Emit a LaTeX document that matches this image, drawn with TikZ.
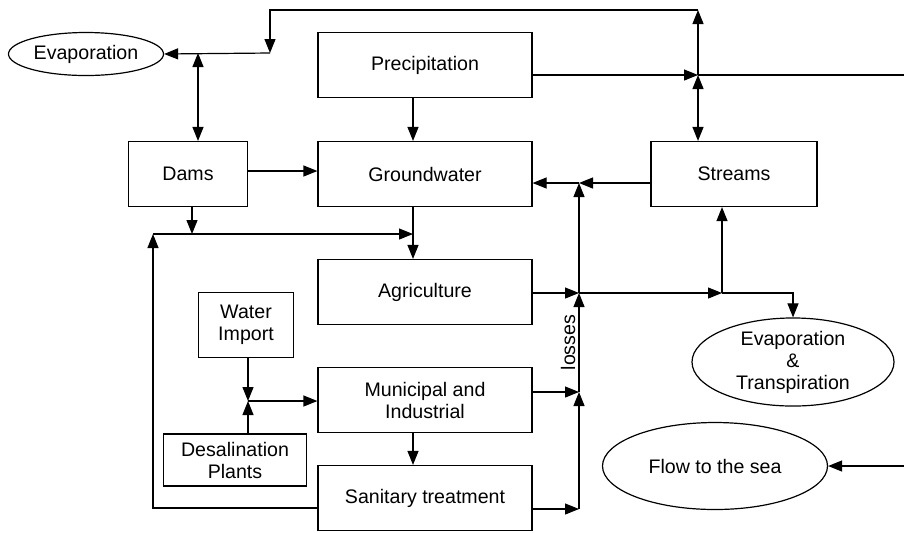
\documentclass[tikz,border=0pt]{standalone}
\usepackage{fontspec}
\setmainfont{Liberation Sans}
\usepackage{tikz}
\usetikzlibrary{shapes.geometric, arrows.meta, positioning, calc}

\begin{document}
\begin{tikzpicture}[
    x=0.5pt, y=-0.5pt,
    line width=0.6pt,
    font=\fontsize{9.8pt}{11pt}\selectfont,
    box/.style={rectangle, draw=black, inner sep=0pt, align=center, minimum width=#1},
    box/.default=107pt,
    oval/.style={ellipse, draw=black, inner sep=0pt, align=center},
    arr/.style={-{Triangle[length=7pt,width=5.5pt]}},
    arrb/.style={{Triangle[length=7pt,width=5.5pt]}-{Triangle[length=7pt,width=5.5pt]}},
]
\useasboundingbox (0,0) rectangle (904,532);

% nodes
\node[oval, minimum width=77.5pt, minimum height=21.5pt] (evap) at (86,54) {Evaporation};
\node[box, minimum height=32.5pt] (precip) at (425,65) {Precipitation};
\node[box=59.5pt, minimum height=32.5pt] (dams) at (188,174) {Dams};
\node[box, minimum height=32.5pt] (gw) at (425,174) {Groundwater};
\node[box=83pt, minimum height=32.5pt] (streams) at (734,174) {Streams};
\node[box, minimum height=32.5pt] (agri) at (425,292) {Agriculture};
\node[box=47.5pt, minimum height=32.5pt] (import) at (246,325) {Water\\Import};
\node[box, minimum height=32.5pt] (muni) at (425,400) {Municipal and\\Industrial};
\node[box=71.5pt, minimum height=26pt] (desal) at (235,460) {Desalination\\Plants};
\node[box, minimum height=32.5pt] (san) at (425,498) {Sanitary treatment};
\node[oval, minimum width=101pt, minimum height=39.5pt] (et) at (793,362) {Evaporation\\\&\\Transpiration};
\node[oval, minimum width=112.5pt, minimum height=43.5pt] (sea) at (715,466) {Flow to the sea};

% junctions
\coordinate (je) at (270,53);
\coordinate (jdam) at (198,53);
\coordinate (c1) at (270,10);
\coordinate (c2) at (698,10);
\coordinate (jp) at (698,75);
\coordinate (eR) at (904,75);
\coordinate (jd) at (192,234);
\coordinate (jl) at (153,234);
\coordinate (jg) at (413,234);
\coordinate (sl) at (153,508);
\coordinate (jgw) at (579,183);
\coordinate (ja) at (579,293);
\coordinate (jm) at (579,392);
\coordinate (jst) at (579,509);
\coordinate (js) at (722,293);
\coordinate (jw) at (248,401);
\coordinate (fR) at (904,466);

% top loop
\draw[arr] (jp) -- (c2);
\draw[arr] (c2) -- (c1) -- (je);
\draw[arr] (je) -- (evap.east);
\draw[arrb] (jdam) -- (dams.north -| jdam);
\draw[arr] (precip.east |- jp) -- (jp);
\draw (jp) -- (eR);
\draw[arrb] (jp) -- (streams.north -| jp);

% middle
\draw[arr] ([xshift=-6pt]precip.south) -- ([xshift=-6pt]gw.north);
\draw[arr] ([yshift=1.5pt]dams.east) -- ([yshift=1.5pt]gw.west);
\draw[arr] (dams.south -| jd) -- (jd);
\draw[arr] (jl) -- (jg);
\draw[arr] ([xshift=-6pt]gw.south) -- ([xshift=-6pt]agri.north);
\draw[arr] (streams.west |- jgw) -- (jgw);
\draw[arr] (jgw) -- (gw.east |- jgw);
\draw[arr] (agri.east |- ja) -- (ja);
\draw[arr] (ja) -- (jgw);
\draw[arr] (ja) -- (js);
\draw[arr] (js) -- (js |- streams.south);
\draw[arr] (js) -| (et.north);

% lower
\draw[arr] (import.south -| jw) -- (jw);
\draw[arr] (desal.north -| jw) -- (jw);
\draw[arr] (jw) -- (muni.west |- jw);
\draw[arr] ([xshift=-6pt]muni.south) -- ([xshift=-6pt]san.north);
\draw[arr] (muni.east |- jm) -- (jm);
\draw[arr] (san.east |- jst) -- (jst);
\draw[arr] (jst) -- (jm);
\draw[arr] (jm) -- node[midway, above, sloped, inner sep=1.5pt]{losses} (ja);
\draw[arr] (san.west |- sl) -- (sl) -- (jl);
\draw[arr] (fR) -- (sea.east);
\end{tikzpicture}
\end{document}
